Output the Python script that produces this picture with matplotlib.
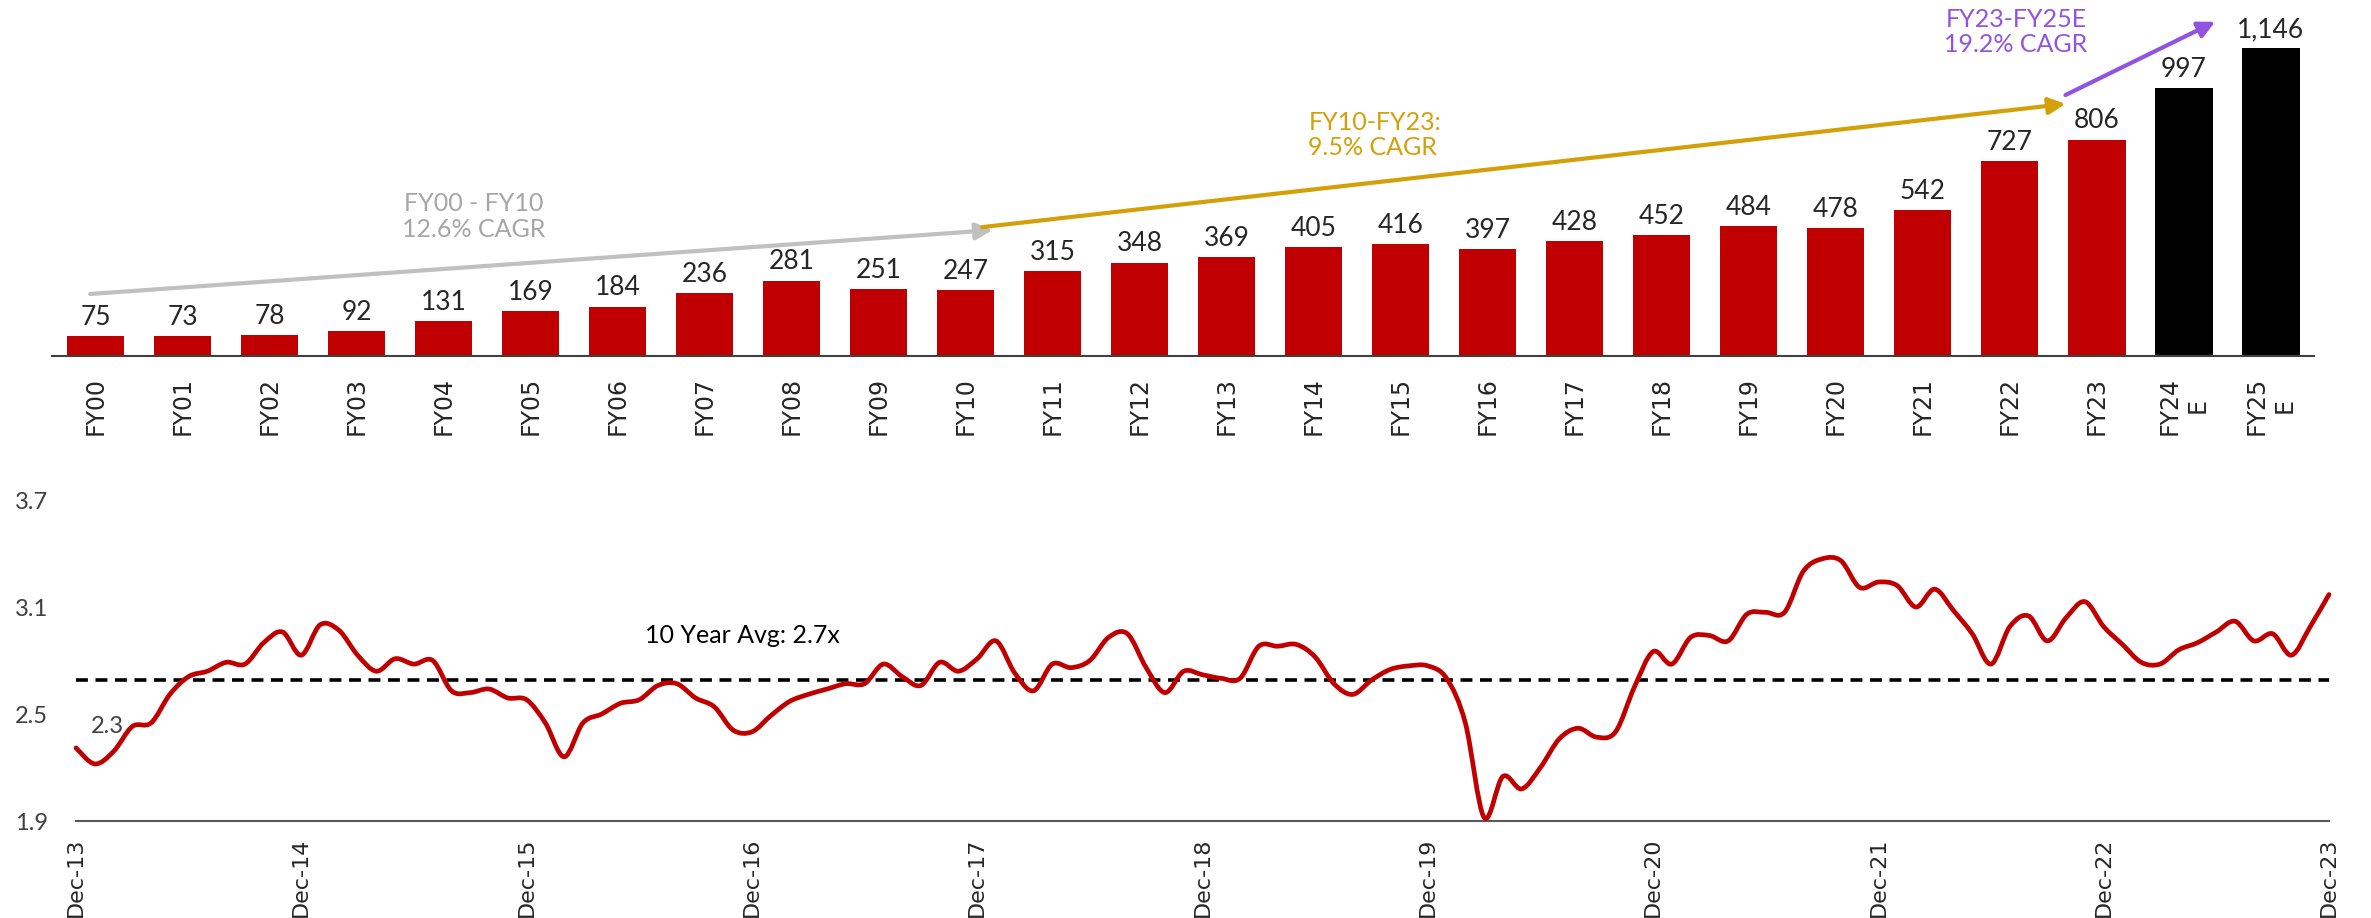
import numpy as np
import matplotlib
matplotlib.use("Agg")
import matplotlib.pyplot as plt
from matplotlib.path import Path
from matplotlib.patches import PathPatch

# annual revenue, FY00 - FY25E
fy_labels = ["FY00", "FY01", "FY02", "FY03", "FY04", "FY05", "FY06", "FY07",
             "FY08", "FY09", "FY10", "FY11", "FY12", "FY13", "FY14", "FY15",
             "FY16", "FY17", "FY18", "FY19", "FY20", "FY21", "FY22", "FY23",
             "FY24\nE", "FY25\nE"]
revenue = [75, 73, 78, 92, 131, 169, 184, 236, 281, 251, 247, 315, 348, 369,
           405, 416, 397, 428, 452, 484, 478, 542, 727, 806, 997, 1146]
n_estimates = 2

# monthly multiple, Dec-13 .. Dec-23
multiple = [
    2.31, 2.22, 2.29, 2.43, 2.45, 2.61, 2.71, 2.74, 2.79, 2.78, 2.90, 2.96,
    2.83, 3.00, 2.97, 2.83, 2.74, 2.81, 2.78, 2.80, 2.63, 2.62, 2.64, 2.59,
    2.58, 2.45, 2.26, 2.45, 2.50, 2.56, 2.58, 2.66, 2.67, 2.59, 2.54, 2.41,
    2.40, 2.49, 2.57, 2.61, 2.64, 2.67, 2.67, 2.78, 2.71, 2.66, 2.79, 2.74,
    2.81, 2.91, 2.73, 2.63, 2.78, 2.76, 2.80, 2.93, 2.95, 2.76, 2.62, 2.74,
    2.72, 2.70, 2.70, 2.88, 2.88, 2.89, 2.82, 2.67, 2.61, 2.69, 2.75, 2.77,
    2.77, 2.70, 2.45, 1.92, 2.15, 2.08, 2.20, 2.36, 2.42, 2.37, 2.40, 2.65,
    2.85, 2.78, 2.93, 2.94, 2.91, 3.06, 3.07, 3.07, 3.30, 3.37, 3.36, 3.21,
    3.24, 3.22, 3.10, 3.20, 3.08, 2.95, 2.78, 2.99, 3.05, 2.91, 3.04, 3.13,
    2.99, 2.89, 2.79, 2.78, 2.86, 2.90, 2.96, 3.02, 2.91, 2.95, 2.83, 2.99,
    3.17]
year_labels = ["Dec-13", "Dec-14", "Dec-15", "Dec-16", "Dec-17", "Dec-18",
               "Dec-19", "Dec-20", "Dec-21", "Dec-22", "Dec-23"]
y_ticks = [1.9, 2.5, 3.1, 3.7]
avg_multiple = 2.69
avg_text = "10 Year Avg: 2.7x"
first_text = "2.3"

RED = "#C00000"
GREY = "#C0C0C0"
GOLD = "#D4A009"
PURPLE = "#9153E2"
TXT = "#262626"

NUM_FONT = "Lato"
TICK_FONT = "DejaVu Sans"


def smooth_path(x, y):
    # Catmull-Rom -> cubic bezier, like Excel's smoothed line
    pts = np.column_stack([x, y]).astype(float)
    ext = np.vstack([pts[0], pts, pts[-1]])
    verts = [pts[0]]
    codes = [Path.MOVETO]
    for i in range(len(pts) - 1):
        p0, p1, p2, p3 = ext[i], ext[i + 1], ext[i + 2], ext[i + 3]
        verts += [p1 + (p2 - p0) / 6, p2 - (p3 - p1) / 6, p2]
        codes += [Path.CURVE4] * 3
    return Path(verts, codes)


fig = plt.figure(figsize=(23.71, 9.18), dpi=100)

# ---- top: bars ----
ax1 = fig.add_axes([0.0219, 0.6122, 0.9542, 0.3878])
x = np.arange(len(revenue))
colors = [RED] * (len(revenue) - n_estimates) + ["black"] * n_estimates
ax1.bar(x, revenue, width=0.66, color=colors)
for xi, v in zip(x, revenue):
    ax1.annotate(f"{v:,}", (xi, v), xytext=(0, 8), textcoords="offset points",
                 ha="center", va="baseline", fontsize=19, color=TXT,
                 family=NUM_FONT)
ax1.set_xlim(-0.5, len(revenue) - 0.5)
ax1.set_ylim(0, 1326)
ax1.set_xticks(x)
ax1.set_xticklabels(fy_labels, rotation=90, multialignment="center",
                    fontsize=17, family=TICK_FONT, color=TXT)
ax1.tick_params(axis="x", length=0, pad=15)
ax1.set_yticks([])
for s in ["top", "right", "left"]:
    ax1.spines[s].set_visible(False)
ax1.spines["bottom"].set_color("#404040")
ax1.spines["bottom"].set_linewidth(1.5)

# CAGR arrows
arrows = [((-0.06, 231), (10.31, 469), GREY),
          ((10.19, 480), (22.64, 939), GOLD),
          ((22.64, 972), (24.36, 1245), PURPLE)]
for start, end, c in arrows:
    ax1.annotate("", xy=end, xytext=start,
                 arrowprops=dict(arrowstyle="-|>", color=c, lw=3,
                                 mutation_scale=25, shrinkA=0, shrinkB=0))
ax1.text(4.35, 521, "FY00 - FY10\n12.6% CAGR", ha="center", va="center",
         fontsize=18, color="#A6A6A6", family=NUM_FONT, linespacing=1.15)
ax1.text(13.94, 823, "FY10-FY23:\n9.5% CAGR", ha="left", va="center",
         fontsize=18, color=GOLD, family=NUM_FONT, linespacing=1.15)
ax1.text(22.07, 1207, "FY23-FY25E\n19.2% CAGR", ha="center", va="center",
         fontsize=18, color=PURPLE, family=NUM_FONT, linespacing=1.15)

# ---- bottom: multiple ----
ax2 = fig.add_axes([0.03205, 0.10566, 0.95023, 0.34967])
m = np.arange(len(multiple))
ax2.add_patch(PathPatch(smooth_path(m, multiple), fill=False, edgecolor=RED,
                        lw=3.4, capstyle="round", joinstyle="round",
                        clip_on=False, zorder=3))
ax2.plot([0, m[-1]], [avg_multiple, avg_multiple], color="black", lw=2.6,
         dashes=(3.3, 2.1), zorder=2)
ax2.text(30.3, 2.943, avg_text, ha="left", va="center", fontsize=18,
         color="black", family=NUM_FONT)
ax2.text(1.65, 2.43, first_text, ha="center", va="center", fontsize=17,
         color="#404040", family=NUM_FONT, zorder=4)
ax2.set_xlim(0, m[-1])
ax2.set_ylim(y_ticks[0], y_ticks[-1])
ax2.set_yticks(y_ticks)
ax2.set_yticklabels([f"{t:.1f}" for t in y_ticks], fontsize=17,
                    color="#404040", family=NUM_FONT)
ax2.set_xticks(np.arange(0, len(multiple), 12))
ax2.set_xticklabels(year_labels, rotation=90, fontsize=16, family=TICK_FONT,
                    color=TXT)
ax2.tick_params(axis="x", length=0, pad=12)
ax2.tick_params(axis="y", length=0, pad=20)
for s in ["top", "right", "left"]:
    ax2.spines[s].set_visible(False)
ax2.spines["bottom"].set_color("#595959")
ax2.spines["bottom"].set_linewidth(1.5)

fig.savefig("out.png", dpi=100)
